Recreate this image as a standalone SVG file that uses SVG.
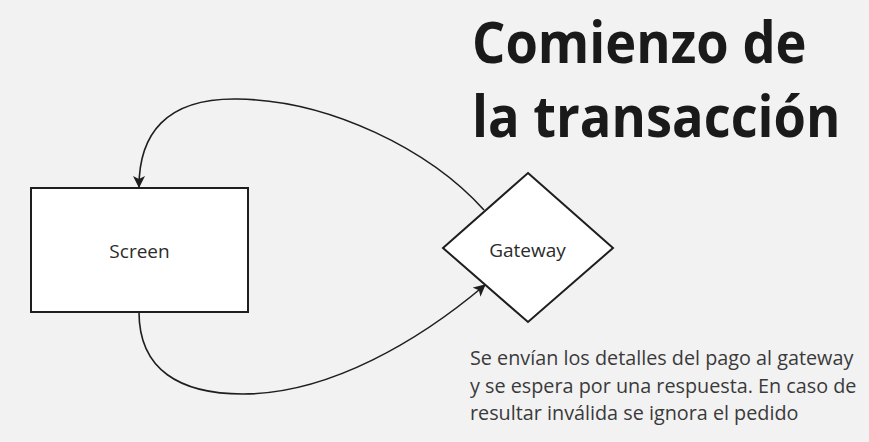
<svg xmlns="http://www.w3.org/2000/svg" width="869" height="442" viewBox="0 0 869 442">
<defs>
<style>
.node{fill:#ffffff;stroke:#1e1e1e;stroke-width:2}
.lbl{font-family:"Open Sans","Noto Sans",sans-serif;font-size:19px;fill:#2b2b2b;text-anchor:middle}
.edge{fill:none;stroke:#1e1e1e;stroke-width:1.6}
.title{font-family:"Open Sans","Noto Sans",sans-serif;font-size:57px;font-weight:bold;fill:#1a1a1a}
.note{font-family:"Open Sans","Noto Sans",sans-serif;font-size:19.8px;fill:#3a3a3a}
</style>
<marker id="arr" viewBox="0 0 12 12" refX="11" refY="6" markerWidth="12" markerHeight="12" markerUnits="userSpaceOnUse" orient="auto">
<path d="M0,0 L12,6 L0,12 L3,6 Z" fill="#1e1e1e"/>
</marker>
</defs>
<rect width="869" height="442" fill="#f2f2f2"/>
<g id="connectors">
<path class="edge" d="M484,210 C430,150 330,100 237,99 C165,98 139,135 139,187" marker-end="url(#arr)"/>
<path class="edge" d="M139,312 C139,370 180,394 243,394 C330,394 420,340 485,285" marker-end="url(#arr)"/>
</g>
<g id="screen">
<rect class="node" x="31" y="188" width="217" height="124"/>
<text class="lbl" x="139.5" y="257.5">Screen</text>
</g>
<g id="gateway">
<polygon class="node" points="528,173 613,248 528,322 443,248"/>
<text class="lbl" x="527.5" y="256.5">Gateway</text>
</g>
<g id="title" transform="translate(472,0) scale(0.92,1)">
<text class="title" x="0" y="63.5">Comienzo de</text>
<text class="title" x="0" y="137.5">la transacción</text>
</g>
<g id="note">
<text class="note" x="470" y="365">Se envían los detalles del pago al gateway</text>
<text class="note" x="470" y="393">y se espera por una respuesta. En caso de</text>
<text class="note" x="470" y="420">resultar inválida se ignora el pedido</text>
</g>
</svg>
